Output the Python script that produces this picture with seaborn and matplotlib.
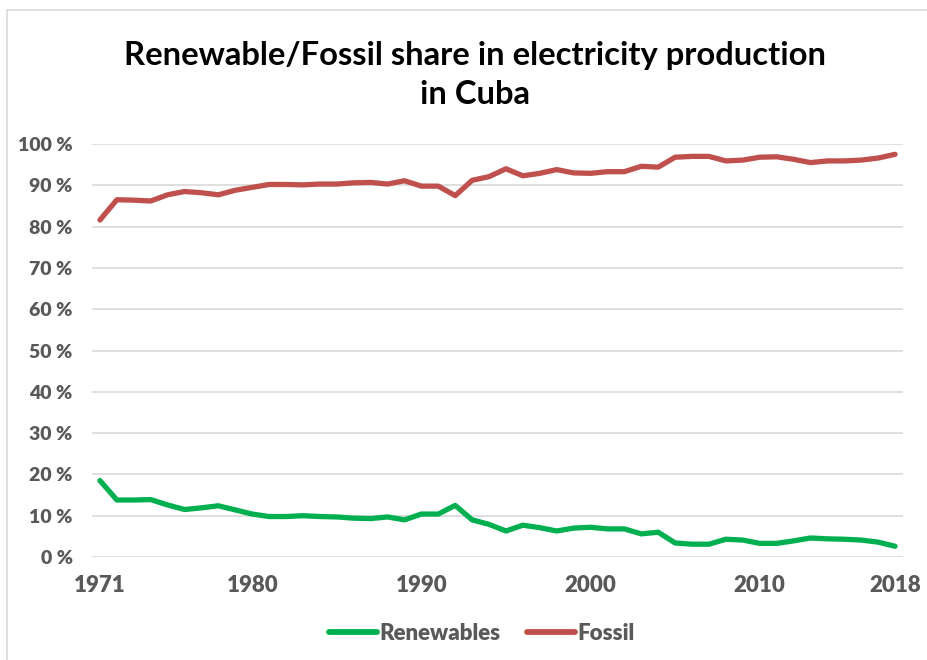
import matplotlib
matplotlib.use("Agg")
import matplotlib.pyplot as plt
import seaborn as sns
import pandas as pd
import numpy as np
from matplotlib.patches import Rectangle
from matplotlib.lines import Line2D

years = list(range(1971, 2019))
renewables = [18.5, 13.8, 13.8, 13.9, 12.6, 11.5, 11.9, 12.4, 11.4, 10.4,
              9.8, 9.8, 10.0, 9.8, 9.7, 9.4, 9.3, 9.7, 9.0, 10.4,
              10.4, 12.5, 9.0, 7.9, 6.3, 7.7, 7.1, 6.3, 7.0, 7.2,
              6.8, 6.8, 5.6, 6.0, 3.4, 3.1, 3.1, 4.3, 4.1, 3.3,
              3.3, 3.9, 4.6, 4.4, 4.3, 4.1, 3.6, 2.6]
fossil = [81.6, 86.5, 86.4, 86.2, 87.7, 88.5, 88.2, 87.7, 88.8, 89.5,
          90.2, 90.2, 90.1, 90.3, 90.3, 90.6, 90.7, 90.3, 91.1, 89.8,
          89.8, 87.5, 91.2, 92.1, 94.0, 92.3, 92.9, 93.8, 93.0, 92.9,
          93.3, 93.3, 94.6, 94.4, 96.8, 97.0, 97.0, 95.9, 96.1, 96.8,
          96.9, 96.3, 95.5, 95.9, 95.9, 96.1, 96.6, 97.5]
series_names = ["Renewables", "Fossil"]
series_colors = ["#00B050", "#C0504D"]
x_ticks = [1971, 1980, 1990, 2000, 2010, 2018]
y_ticks = list(range(0, 101, 10))
title = "Renewable/Fossil share in electricity production\nin Cuba"

df = pd.DataFrame({
    "Year": years * 2,
    "Share": renewables + fossil,
    "Series": [series_names[0]] * len(years) + [series_names[1]] * len(years),
})

sns.set_theme(style="white")
plt.rcParams["font.family"] = ["Lato", "DejaVu Sans"]

fig = plt.figure(figsize=(9.28, 6.6), dpi=100)
fig.patch.set_facecolor("white")
fig.add_artist(Rectangle((0.008, -0.05), 1.2, 1.05 - 10/660, transform=fig.transFigure,
                         fill=False, edgecolor="#d9d9d9", linewidth=1.2))

ax = fig.add_axes([92/928, 1 - 557/660, (903 - 92)/928, (557 - 144)/660])
sns.lineplot(data=df, x="Year", y="Share", hue="Series", palette=series_colors,
             hue_order=series_names, linewidth=3.8, ax=ax, legend=False)
for ln in ax.lines:
    ln.set_solid_capstyle("round")
    ln.set_solid_joinstyle("round")

ax.set_xlim(1970.53, 2018.47)
ax.set_ylim(0, 100)
ax.set_xticks(x_ticks)
ax.set_yticks(y_ticks)
ax.set_xticklabels([str(t) for t in x_ticks], fontweight="heavy", fontsize=16, color="#595959")
ax.set_yticklabels([f"{t} %" for t in y_ticks], fontweight="heavy", fontsize=14, color="#595959")
ax.grid(axis="y", color="#d9d9d9", linewidth=1.2)
ax.set_axisbelow(True)
for s in ax.spines.values():
    s.set_visible(False)
ax.set_xlabel("")
ax.set_ylabel("")
ax.tick_params(axis="y", length=0, pad=14)
ax.tick_params(axis="x", length=0, pad=13)

fig.text(0.512, 1 - 75/660, title, ha="center", va="center", fontsize=23.6,
         fontweight="bold", color="black", linespacing=1.45)

handles = [Line2D([0], [0], color=c, linewidth=4.2, solid_capstyle="round") for c in series_colors]
fig.legend(handles, series_names, loc="center", bbox_to_anchor=(0.519, 1 - 633/660),
           ncol=2, frameon=False, handlelength=2.15, columnspacing=1.2, handletextpad=0.1,
           prop={"weight": "heavy", "size": 16}, labelcolor="#595959")

fig.savefig("out.png", dpi=100, facecolor="white")
